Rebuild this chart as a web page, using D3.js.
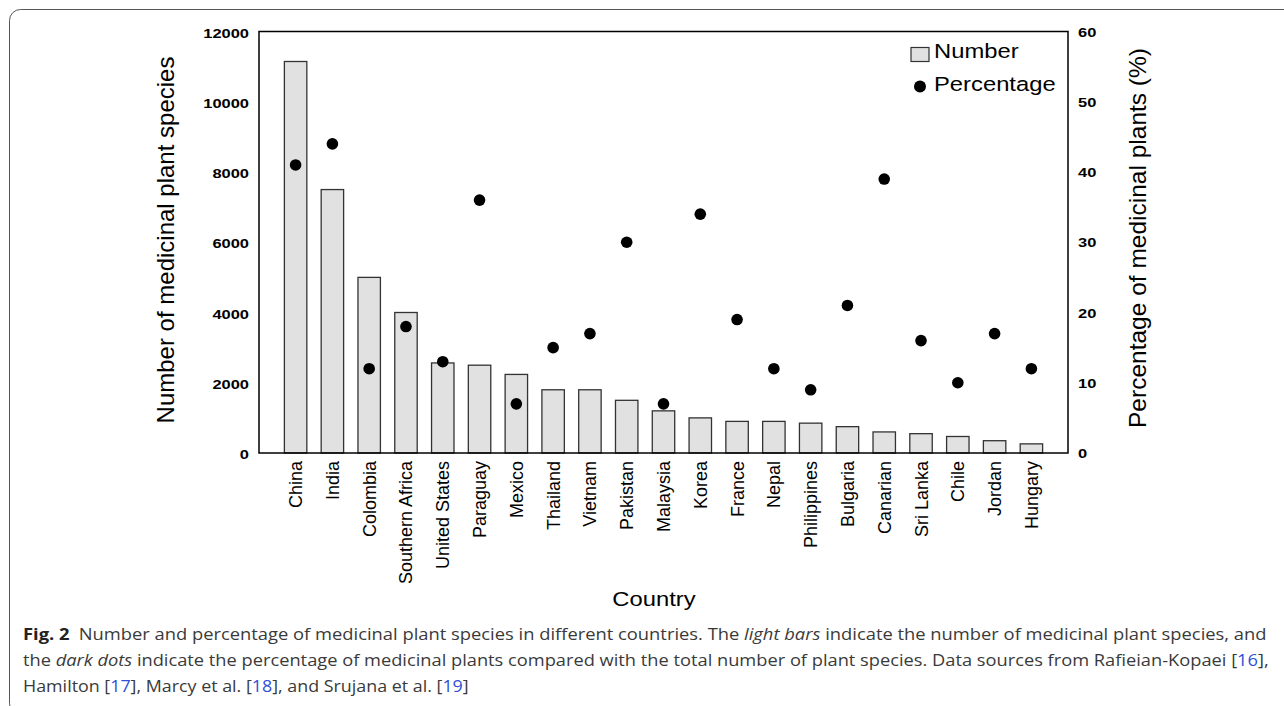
<!DOCTYPE html>
<html>
<head>
<meta charset="utf-8">
<script src="https://cdn.jsdelivr.net/npm/d3@7"></script>
<style>
  body { margin: 0; background: #fff; }
  svg { display: block; }
</style>
</head>
<body>
<div id="chart"></div>
<script>
const width = 1284;
const height = 706;

// data
const countries = ["China", "India", "Colombia", "Southern Africa", "United States", "Paraguay", "Mexico",
  "Thailand", "Vietnam", "Pakistan", "Malaysia", "Korea", "France", "Nepal", "Philippines", "Bulgaria",
  "Canarian", "Sri Lanka", "Chile", "Jordan", "Hungary"];
const numbers = [11146, 7500, 5000, 4000, 2564, 2500, 2237, 1800, 1800, 1500, 1200, 1000, 900, 900, 850,
  750, 600, 550, 470, 350, 260];
const percentages = [41, 44, 12, 18, 13, 36, 7, 15, 17, 30, 7, 34, 19, 12, 9, 21, 39, 16, 10, 17, 12];
const leftTicks = [0, 2000, 4000, 6000, 8000, 10000, 12000];
const rightTicks = [0, 10, 20, 30, 40, 50, 60];

// horizontal text in the original figure is a bit stretched sideways
const SX = 1.22;
const font = "'Liberation Sans', Arial, sans-serif";

const plot = { left: 259, right: 1068, top: 31.5, bottom: 453 };

const svg = d3.select("#chart").append("svg")
  .attr("width", width)
  .attr("height", height);

// card border
svg.append("rect")
  .attr("x", 9.5).attr("y", 9.5)
  .attr("width", 1320).attr("height", 705)
  .attr("rx", 11)
  .attr("fill", "none")
  .attr("stroke", "#555")
  .attr("stroke-width", 1);

const x = d3.scaleBand()
  .domain(countries)
  .range([plot.left, plot.right])
  .paddingInner(0.39)
  .paddingOuter(0.69);

const yLeft = d3.scaleLinear().domain([0, 12000]).range([plot.bottom, plot.top]);
const yRight = d3.scaleLinear().domain([0, 60]).range([plot.bottom, plot.top]);

// bars
svg.append("g")
  .selectAll("rect")
  .data(countries)
  .enter()
  .append("rect")
  .attr("x", d => x(d))
  .attr("y", (d, i) => yLeft(numbers[i]))
  .attr("width", x.bandwidth())
  .attr("height", (d, i) => plot.bottom - yLeft(numbers[i]))
  .attr("fill", "#e1e1e1")
  .attr("stroke", "#333")
  .attr("stroke-width", 1.3);

// dots
svg.append("g")
  .selectAll("circle")
  .data(countries)
  .enter()
  .append("circle")
  .attr("cx", d => x(d) + x.bandwidth() / 2)
  .attr("cy", (d, i) => yRight(percentages[i]))
  .attr("r", 5.8)
  .attr("fill", "#000");

// frame
svg.append("rect")
  .attr("x", plot.left).attr("y", plot.top)
  .attr("width", plot.right - plot.left)
  .attr("height", plot.bottom - plot.top)
  .attr("fill", "none")
  .attr("stroke", "#000")
  .attr("stroke-width", 1.5);

// left axis
const gLeft = svg.append("g")
  .attr("transform", `translate(${plot.left},0)`)
  .call(d3.axisLeft(yLeft).tickValues(leftTicks).tickFormat(d3.format("d")).tickSize(0).tickPadding(0));
gLeft.select(".domain").remove();
gLeft.selectAll("text")
  .attr("x", -10 / SX)
  .attr("dy", "0.42em")
  .attr("transform", `scale(${SX},1)`)
  .attr("font-family", font)
  .attr("font-weight", "bold")
  .attr("font-size", "13.5px")
  .attr("fill", "#000");

// right axis
const gRight = svg.append("g")
  .attr("transform", `translate(${plot.right},0)`)
  .call(d3.axisRight(yRight).tickValues(rightTicks).tickSize(0).tickPadding(0));
gRight.select(".domain").remove();
gRight.selectAll("text")
  .attr("x", 10 / SX)
  .attr("dy", "0.35em")
  .attr("transform", `scale(${SX},1)`)
  .attr("font-family", font)
  .attr("font-weight", "bold")
  .attr("font-size", "13.5px")
  .attr("fill", "#000");

// bottom axis: country names
const gBottom = svg.append("g")
  .attr("transform", `translate(0,${plot.bottom})`)
  .call(d3.axisBottom(x).tickSize(0).tickPadding(0));
gBottom.select(".domain").remove();
gBottom.selectAll("text")
  .attr("x", -8)
  .attr("y", 0)
  .attr("dy", "0.36em")
  .attr("text-anchor", "end")
  .attr("transform", "rotate(-90)")
  .attr("font-family", font)
  .attr("font-size", "18px")
  .attr("fill", "#000");

function addText(g, tx, ty, rot, str, size, stretch) {
  let tr = `translate(${tx},${ty})`;
  if (stretch) tr += ` scale(${SX},1)`;
  if (rot) tr += ` rotate(${rot})`;
  return g.append("text")
    .attr("transform", tr)
    .attr("font-family", font)
    .attr("font-size", size + "px")
    .attr("fill", "#000")
    .text(str);
}

// axis titles
addText(svg, 166, 240, -90, "Number of medicinal plant species", 24, false)
  .attr("text-anchor", "middle").attr("dy", "0.35em");
addText(svg, 1137, 238, -90, "Percentage of medicinal plants (%)", 24.5, false)
  .attr("text-anchor", "middle").attr("dy", "0.35em");
addText(svg, 654, 606, 0, "Country", 19.5, true)
  .attr("text-anchor", "middle");

// legend
const legend = svg.append("g");
legend.append("rect")
  .attr("x", 911).attr("y", 47.5)
  .attr("width", 18).attr("height", 14)
  .attr("fill", "#e1e1e1")
  .attr("stroke", "#333")
  .attr("stroke-width", 1.2);
addText(legend, 934, 57.5, 0, "Number", 19.5, true);
legend.append("circle")
  .attr("cx", 920).attr("cy", 86.5)
  .attr("r", 6)
  .attr("fill", "#000");
addText(legend, 934, 91, 0, "Percentage", 19.5, true);

// caption
const capFont = "'Open Sans', 'Noto Sans', sans-serif";
const captionLines = [
  { y: 640, target: 1245, parts: [
    { t: "Fig. 2", w: "bold", c: "#222" },
    { t: "\u2002Number and percentage of medicinal plant species in different countries. The " },
    { t: "light bars", s: "italic" },
    { t: " indicate the number of medicinal plant species, and" }] },
  { y: 666, target: 1247, parts: [
    { t: "the " },
    { t: "dark dots", s: "italic" },
    { t: " indicate the percentage of medicinal plants compared with the total number of plant species. Data sources from Rafieian-Kopaei [" },
    { t: "16", c: "#2f4fd8" },
    { t: "]," }] },
  { y: 692, target: 446, parts: [
    { t: "Hamilton [" }, { t: "17", c: "#2f4fd8" }, { t: "], Marcy et al. [" }, { t: "18", c: "#2f4fd8" },
    { t: "], and Srujana et al. [" }, { t: "19", c: "#2f4fd8" }, { t: "]" }] }
];

captionLines.forEach(line => {
  const txt = svg.append("text")
    .attr("font-family", capFont)
    .attr("font-size", "16.5px")
    .attr("fill", "#3a3a3a");
  line.parts.forEach(p => {
    txt.append("tspan")
      .attr("font-weight", p.w || "normal")
      .attr("font-style", p.s || "normal")
      .attr("fill", p.c || null)
      .text(p.t);
  });
  const len = txt.node().getComputedTextLength();
  const k = line.target / len;
  txt.attr("transform", `translate(23,${line.y}) scale(${k},1)`);
});
</script>
</body>
</html>
